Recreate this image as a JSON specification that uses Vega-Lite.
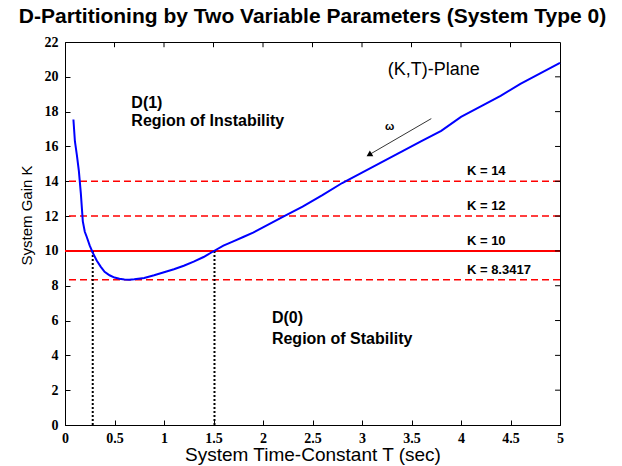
{
  "$schema": "https://vega.github.io/schema/vega-lite/v6.json",
  "autosize": "none",
  "width": 495,
  "height": 383,
  "padding": {"left": 65, "top": 42, "right": 62, "bottom": 41},
  "background": "white",
  "title": {"text": "D-Partitioning by Two Variable Parameters (System Type 0)", "font": "Liberation Sans", "fontSize": 21, "fontWeight": "bold", "color": "black", "anchor": "middle", "offset": 8},
  "config": {
    "view": {"stroke": "black", "strokeWidth": 1},
    "axis": {"grid": false, "domainColor": "black", "tickColor": "black", "labelColor": "black", "titleColor": "black", "titleFont": "Liberation Sans", "titleFontWeight": "normal", "tickSize": -5, "format": "~g", "labelOverlap": false, "labelFlush": false, "labelFont": "Liberation Serif", "labelFontWeight": "bold", "labelFontSize": 14},
    "axisY": {"tickCount": 11, "labelPadding": 12},
    "axisX": {"tickCount": 10, "labelPadding": 11}
  },
  "datasets": {
    "curve": [
      {"T": 0.085, "K": 17.55}, {"T": 0.1, "K": 16.3}, {"T": 0.12, "K": 15.5}, {"T": 0.14, "K": 14.6}, {"T": 0.16, "K": 13.3}, {"T": 0.18, "K": 11.7}, {"T": 0.2, "K": 11.1}, {"T": 0.22, "K": 10.8}, {"T": 0.25, "K": 10.3}, {"T": 0.28, "K": 9.9}, {"T": 0.32, "K": 9.45}, {"T": 0.36, "K": 9.1}, {"T": 0.4, "K": 8.8}, {"T": 0.45, "K": 8.6}, {"T": 0.5, "K": 8.47}, {"T": 0.55, "K": 8.4}, {"T": 0.6, "K": 8.36}, {"T": 0.65, "K": 8.35}, {"T": 0.7, "K": 8.37}, {"T": 0.8, "K": 8.45}, {"T": 0.9, "K": 8.6}, {"T": 1.0, "K": 8.77}, {"T": 1.1, "K": 8.95}, {"T": 1.2, "K": 9.15}, {"T": 1.3, "K": 9.38}, {"T": 1.4, "K": 9.65}, {"T": 1.5, "K": 9.98}, {"T": 1.6, "K": 10.3}, {"T": 1.7, "K": 10.55}, {"T": 1.8, "K": 10.8}, {"T": 1.9, "K": 11.05}, {"T": 2.0, "K": 11.35}, {"T": 2.2, "K": 11.95}, {"T": 2.4, "K": 12.55}, {"T": 2.6, "K": 13.2}, {"T": 2.8, "K": 13.9}, {"T": 3.0, "K": 14.5}, {"T": 3.2, "K": 15.1}, {"T": 3.4, "K": 15.7}, {"T": 3.6, "K": 16.3}, {"T": 3.8, "K": 16.9}, {"T": 4.0, "K": 17.7}, {"T": 4.2, "K": 18.3}, {"T": 4.4, "K": 18.9}, {"T": 4.6, "K": 19.6}, {"T": 4.8, "K": 20.2}, {"T": 5.0, "K": 20.8}
    ],
    "levels": [
      {"K": 14, "label": "K = 14", "style": "dashed"},
      {"K": 12, "label": "K = 12", "style": "dashed"},
      {"K": 10, "label": "K = 10", "style": "solid"},
      {"K": 8.3417, "label": "K = 8.3417", "style": "dashed"}
    ],
    "crossings": [{"T": 0.28, "K0": 0, "K": 10}, {"T": 1.51, "K0": 0, "K": 10}],
    "notes": [
      {"T": 0.67, "K": 18.5, "text": "D(1)"},
      {"T": 0.67, "K": 17.45, "text": "Region of Instability"},
      {"T": 2.09, "K": 6.15, "text": "D(0)"},
      {"T": 2.09, "K": 4.95, "text": "Region of Stability"}
    ],
    "arrow": [{"T": 3.70, "K": 17.6, "T2": 3.08, "K2": 15.55}],
    "xticks": [{"T": 0.5, "top": 22, "in": 21.7}, {"T": 1, "top": 22, "in": 21.7}, {"T": 1.5, "top": 22, "in": 21.7}, {"T": 2, "top": 22, "in": 21.7}, {"T": 2.5, "top": 22, "in": 21.7}, {"T": 3, "top": 22, "in": 21.7}, {"T": 3.5, "top": 22, "in": 21.7}, {"T": 4, "top": 22, "in": 21.7}, {"T": 4.5, "top": 22, "in": 21.7}],
    "yticks": [{"K": 2, "right": 5, "in": 4.95}, {"K": 4, "right": 5, "in": 4.95}, {"K": 6, "right": 5, "in": 4.95}, {"K": 8, "right": 5, "in": 4.95}, {"K": 10, "right": 5, "in": 4.95}, {"K": 12, "right": 5, "in": 4.95}, {"K": 14, "right": 5, "in": 4.95}, {"K": 16, "right": 5, "in": 4.95}, {"K": 18, "right": 5, "in": 4.95}, {"K": 20, "right": 5, "in": 4.95}]
  },
  "layer": [
    {
      "data": {"name": "levels"},
      "mark": {"type": "rule", "color": "#ff0000", "strokeWidth": 1.5, "strokeDash": [7, 4]},
      "transform": [{"filter": "datum.style == 'dashed'"}],
      "encoding": {
        "y": {"field": "K", "type": "quantitative", "scale": {"domain": [0, 22], "nice": false}, "axis": {"title": "System Gain K", "titleFontSize": 15, "titleX": -39, "titleY": 173, "titleAlign": "center", "titleBaseline": "middle", "titleAngle": 270}}
      }
    },
    {
      "data": {"name": "levels"},
      "mark": {"type": "rule", "color": "#ff0000", "strokeWidth": 2},
      "transform": [{"filter": "datum.style == 'solid'"}],
      "encoding": {"y": {"field": "K", "type": "quantitative"}}
    },
    {
      "data": {"name": "crossings"},
      "mark": {"type": "rule", "color": "black", "strokeWidth": 2, "strokeDash": [2, 2]},
      "encoding": {
        "x": {"field": "T", "type": "quantitative"},
        "y": {"field": "K0", "type": "quantitative"},
        "y2": {"field": "K"}
      }
    },
    {
      "data": {"name": "curve"},
      "mark": {"type": "line", "color": "#0000ff", "strokeWidth": 2},
      "encoding": {
        "x": {"field": "T", "type": "quantitative", "scale": {"domain": [0, 5], "nice": false}, "axis": {"title": "System Time-Constant T (sec)", "titleFontSize": 19, "titlePadding": 0}},
        "y": {"field": "K", "type": "quantitative"}
      }
    },
    {
      "data": {"name": "xticks"},
      "mark": {"type": "rule", "color": "black", "strokeWidth": 1},
      "encoding": {
        "x": {"field": "T", "type": "quantitative"},
        "y": {"field": "top", "type": "quantitative"},
        "y2": {"field": "in"}
      }
    },
    {
      "data": {"name": "yticks"},
      "mark": {"type": "rule", "color": "black", "strokeWidth": 1},
      "encoding": {
        "y": {"field": "K", "type": "quantitative"},
        "x": {"field": "right", "type": "quantitative"},
        "x2": {"field": "in"}
      }
    },
    {
      "data": {"name": "levels"},
      "mark": {"type": "text", "font": "Liberation Sans", "fontWeight": "bold", "fontSize": 13, "align": "left", "dy": -10, "color": "black"},
      "encoding": {
        "x": {"datum": 4.06, "type": "quantitative"},
        "y": {"field": "K", "type": "quantitative"},
        "text": {"field": "label"}
      }
    },
    {
      "data": {"name": "notes"},
      "mark": {"type": "text", "font": "Liberation Sans", "fontWeight": "bold", "fontSize": 16, "align": "left", "color": "black"},
      "encoding": {
        "x": {"field": "T", "type": "quantitative"},
        "y": {"field": "K", "type": "quantitative"},
        "text": {"field": "text"}
      }
    },
    {
      "data": {"values": [{"T": 3.26, "K": 20.4, "text": "(K,T)-Plane"}]},
      "mark": {"type": "text", "font": "Liberation Sans", "fontSize": 18, "align": "left", "color": "black"},
      "encoding": {
        "x": {"field": "T", "type": "quantitative"},
        "y": {"field": "K", "type": "quantitative"},
        "text": {"field": "text"}
      }
    },
    {
      "data": {"values": [{"T": 3.28, "K": 17.1, "text": "ω"}]},
      "mark": {"type": "text", "font": "Liberation Sans", "fontWeight": "bold", "fontSize": 11, "align": "center", "color": "black"},
      "encoding": {
        "x": {"field": "T", "type": "quantitative"},
        "y": {"field": "K", "type": "quantitative"},
        "text": {"field": "text"}
      }
    },
    {
      "data": {"name": "arrow"},
      "mark": {"type": "rule", "color": "black", "strokeWidth": 0.8},
      "encoding": {
        "x": {"field": "T", "type": "quantitative"},
        "y": {"field": "K", "type": "quantitative"},
        "x2": {"field": "T2"},
        "y2": {"field": "K2"}
      }
    },
    {
      "data": {"name": "arrow"},
      "mark": {"type": "point", "shape": "triangle", "filled": true, "color": "black", "size": 45, "angle": 239, "opacity": 1},
      "encoding": {
        "x": {"field": "T2", "type": "quantitative"},
        "y": {"field": "K2", "type": "quantitative"}
      }
    }
  ]
}
